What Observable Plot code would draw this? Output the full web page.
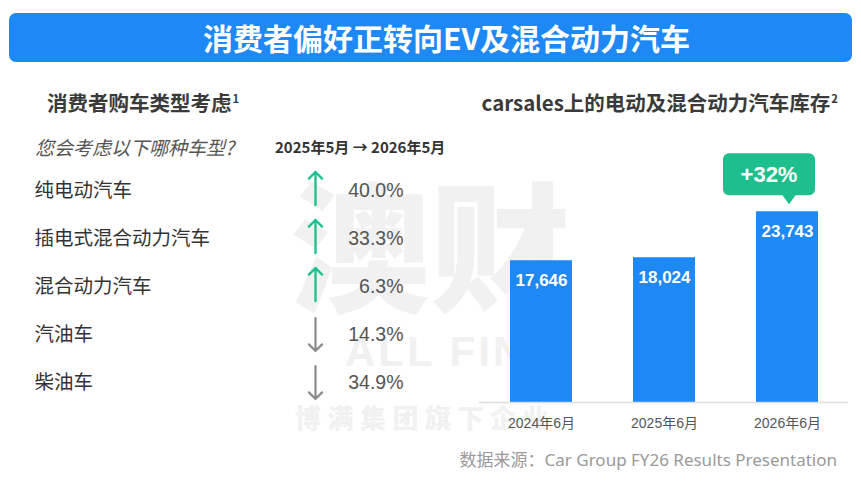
<!DOCTYPE html>
<html>
<head>
<meta charset="utf-8">
<script src="https://cdn.jsdelivr.net/npm/d3@7"></script>
<script src="https://cdn.jsdelivr.net/npm/@observablehq/plot@0.6"></script>
<style>
  body { margin: 0; background: #fff; }
  #root { position: relative; width: 861px; height: 494px; overflow: hidden; background: #fff;
          font-family: "Noto Sans CJK SC", "Noto Sans", sans-serif; }
  .abs { position: absolute; white-space: nowrap; }
  #title { left: 9px; top: 13px; width: 843px; height: 49px; background: #1e88f5; border-radius: 7px; }
  #title span { position: absolute; left: 32px; right: 0; top: 0; line-height: 49px; text-align: center;
                color: #fff; font-size: 30px; font-weight: 700; }
  .sub { top: 88px; line-height: 28px; font-size: 20.5px; font-weight: 700; color: #3a3a3a; }
  .sub sup { font-size: 0.55em; vertical-align: 0.7em; line-height: 0; margin-left: 1px; }
  #q { left: 35px; top: 135px; line-height: 24px; font-size: 19px; font-style: italic; color: #555; }
  #period { left: 275px; top: 136px; line-height: 22px; font-size: 15px; font-weight: 700; color: #333;
            font-family: "Noto Sans CJK SC", sans-serif; }
  #source { right: 24px; top: 449px; line-height: 22px; font-size: 17px; color: #9a9a9a;
            font-family: "Noto Sans", "Noto Sans CJK SC", sans-serif; }
  .wm { color: #f1f1f1; font-weight: 900; }
  #wm1 { left: 290px; top: 170px; font-size: 140px; line-height: 140px; }
  #wm2 { left: 345px; top: 322px; font-size: 42px; line-height: 42px; letter-spacing: 3px;
         font-family: "Liberation Sans", sans-serif; }
  #wm3 { left: 295px; top: 402px; font-size: 26px; line-height: 30px; letter-spacing: 6.5px; }
  #leftPlot { left: 0px; top: 166px; }
  #rightPlot { left: 470px; top: 140px; }
</style>
</head>
<body>
<div id="root">
  <div class="abs wm" id="wm1">澳财</div>
  <div class="abs wm" id="wm2">ALL FIN<span style="font-size:16px;vertical-align:18px;font-weight:400">®</span></div>
  <div class="abs wm" id="wm3">博满集团旗下企业</div>

  <div class="abs" id="title"><span>消费者偏好正转向EV及混合动力汽车</span></div>
  <div class="abs sub" style="left:47px">消费者购车类型考虑<sup>1</sup></div>
  <div class="abs sub" style="right:23px">carsales上的电动及混合动力汽车库存<sup>2</sup></div>
  <div class="abs" id="q">您会考虑以下哪种车型?</div>
  <div class="abs" id="period">2025年5月 → 2026年5月</div>
  <div class="abs" id="leftPlot"></div>
  <div class="abs" id="rightPlot"></div>
  <div class="abs" id="source">数据来源：Car Group FY26 Results Presentation</div>
</div>
<script>
// ---- Data ----
const categories = ["纯电动汽车", "插电式混合动力汽车", "混合动力汽车", "汽油车", "柴油车"];
const changes = [40.0, 33.3, 6.3, -14.3, -34.9];   // % change, 2025年5月 → 2026年5月

const months = ["2024年6月", "2025年6月", "2026年6月"];
const inventory = [17646, 18024, 23743];

// ---- Left panel ----
const rows = categories.map((c, i) => ({category: c, change: changes[i]}));
const ups = rows.filter(d => d.change >= 0);
const downs = rows.filter(d => d.change < 0);

const left = Plot.plot({
  width: 460, height: 240, margin: 0,
  y: {type: "band", domain: categories, padding: 0, axis: null},
  style: {background: "transparent", overflow: "visible"},
  marks: [
    Plot.text(rows, {y: "category", text: "category", frameAnchor: "left", dx: 34, textAnchor: "start",
      fontSize: 19.5, fill: "#333", fontFamily: "Noto Sans CJK SC"}),
    Plot.vector(ups, {y: "category", frameAnchor: "left", dx: 315, dy: -2, length: 33, rotate: 0,
      anchor: "middle", stroke: "#1ec28f", strokeWidth: 2.4}),
    Plot.vector(downs, {y: "category", frameAnchor: "left", dx: 315, length: 33, rotate: 180,
      anchor: "middle", stroke: "#8a8a8a", strokeWidth: 2.2}),
    Plot.text(rows, {y: "category", text: d => d3.format(".1f")(Math.abs(d.change)) + "%",
      frameAnchor: "left", dx: 403, textAnchor: "end", fontSize: 19.5, fill: "#555",
      fontFamily: "Liberation Sans, Arial, sans-serif"})
  ]
});
document.getElementById("leftPlot").append(left);

// ---- Right panel ----
const bars = months.map((m, i) => ({month: m, value: inventory[i]}));
const right = Plot.plot({
  width: 391, height: 300,
  marginLeft: 9, marginRight: 13, marginTop: 21, marginBottom: 38,
  x: {domain: months, paddingInner: 0.5, paddingOuter: 0.245, label: null},
  y: {domain: [0, 30000], axis: null},
  style: {background: "transparent", overflow: "visible", color: "#555",
          fontFamily: "Liberation Sans, Noto Sans CJK SC, sans-serif"},
  marks: [
    Plot.barY(bars, {x: "month", y: "value", fill: "#1e88f5"}),
    Plot.ruleY([0], {stroke: "#dedede", strokeWidth: 1.5}),
    Plot.text(bars, {x: "month", y: "value", text: d => d3.format(",")(d.value), dy: 20,
      fill: "#fff", fontSize: 17, fontWeight: "bold"}),
    Plot.axisX({tickSize: 0, tickPadding: 16, fontSize: 14, fill: "#555", label: null})
  ]
});
document.getElementById("rightPlot").append(right);

// Growth callout anchored to the last bar via the plot's scales
const xs = right.scale("x"), ys = right.scale("y");
const last = bars[bars.length - 1], prev = bars[bars.length - 2];
const growth = last.value / prev.value - 1;
const tipX = xs.apply(last.month) + xs.bandwidth / 2 + 2;
const tipY = ys.apply(last.value) - 7;
const svg = d3.select(right.tagName.toLowerCase() === "svg" ? right : right.querySelector("svg"));
const g = svg.append("g");
g.append("rect").attr("x", tipX - 66).attr("y", tipY - 51).attr("width", 92).attr("height", 42)
  .attr("rx", 6).attr("fill", "#1fbf8d");
g.append("path").attr("d", `M${tipX - 8},${tipY - 11}L${tipX},${tipY}L${tipX + 8},${tipY - 11}Z`)
  .attr("fill", "#1fbf8d");
g.append("text").attr("x", tipX - 20).attr("y", tipY - 30).attr("text-anchor", "middle")
  .attr("dominant-baseline", "central").attr("fill", "#fff").attr("font-size", 22)
  .attr("font-weight", "bold").attr("font-family", "Liberation Sans, Arial, sans-serif")
  .text("+" + d3.format(".0%")(growth));
</script>
</body>
</html>
